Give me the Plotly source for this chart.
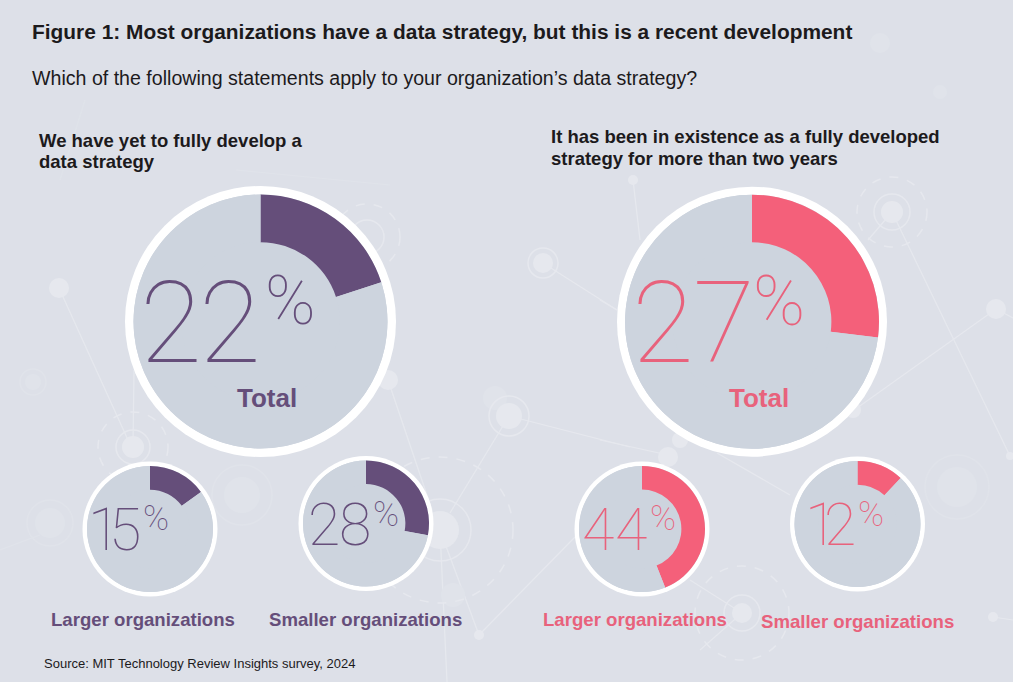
"""Two groups of share-of-organizations pies on a faint network backdrop."""

import plotly.graph_objects as go

W, H = 1013, 682

# data
GROUP_LABELS = ["Total", "Larger organizations", "Smaller organizations"]
YET_TO_DEVELOP = [22, 15, 28]
OVER_TWO_YEARS = [27, 44, 12]
# the 22% wedge is drawn short in the original, it only sweeps about 20%
YET_TO_DEVELOP_WEDGE = [20, 15, 28]
OVER_TWO_YEARS_WEDGE = [27, 44, 12]

TITLE = "Figure 1: Most organizations have a data strategy, but this is a recent development"
QUESTION = "Which of the following statements apply to your organization\u2019s data strategy?"
HEAD_LEFT = ["We have yet to fully develop a", "data strategy"]
HEAD_RIGHT = ["It has been in existence as a fully developed", "strategy for more than two years"]
SOURCE = "Source: MIT Technology Review Insights survey, 2024"

# palette
BG = "#dde0e8"
DISC = "#cdd4de"
PURPLE = "#654e7a"
PINK = "#f4607a"
PINK_TEXT = "#e8627c"
INK = "#1c1a1c"
NODE = "#e6e8ee"
FAINT = "#e0e3ea"
BOLD = "Liberation Sans, Arial, sans-serif"
THIN = "Roboto, sans-serif"

# layout in pixels: centre x, centre y, ring radius, disc radius
PIES_LEFT = [(260.5, 321.5, 135.5, 127), (150, 529, 67.5, 63), (366, 523.5, 67.5, 63)]
PIES_RIGHT = [(752, 321.7, 135, 127), (642, 529, 67.5, 63), (857.5, 524, 67.5, 63)]
# first digit x, second digit x, middle y, size; then the % sign: x, middle y, size
NUM_LEFT = [(139, 198, 323, 113, 264, 301, 68), (87, 108, 529, 59, 141.5, 518, 35), (306.5, 338, 524, 59, 371.5, 514, 35)]
NUM_RIGHT = [(631, 692, 323, 113, 752, 301, 70), (581, 614, 529, 59, 648.5, 518, 35), (803.5, 823, 524, 59, 856.5, 514, 35)]
NAME_LEFT = [(267, 398, 26), (143, 619, 18.6), (365.5, 619, 18.6)]
NAME_RIGHT = [(759, 398, 26), (635, 619, 18.6), (857.5, 621, 18.6)]

# backdrop network, pixels
NET_LINES = [
    (59, 288, 128, 440), (133, 447, 134, 370), (543, 263, 617, 310), (509, 416, 630, 447),
    (509, 416, 450, 513), (388, 380, 432, 510), (440, 530, 479, 635), (440, 530, 447, 682),
    (479, 635, 575, 537), (892, 212, 1010, 456), (892, 212, 868, 240), (996, 309, 850, 413),
    (996, 309, 1013, 318), (993, 617, 1013, 620), (690, 580, 742, 613), (742, 613, 700, 650),
    (717, 453, 790, 495), (633, 180, 640, 240), (600, 300, 617, 310), (600, 440, 668, 455),
]
NET_FAINT_LINES = [(236, 170, 390, 185), (85, 100, 60, 180), (0, 550, 40, 535)]
NET_DOTS = [
    (59, 288, 10), (133, 447, 11), (388, 380, 10), (543, 263, 10), (509, 416, 13), (440, 530, 19),
    (479, 635, 5), (892, 212, 11), (1010, 456, 4), (996, 309, 10), (993, 617, 5), (742, 613, 10),
    (633, 180, 5), (668, 457, 10), (680, 440, 8), (853, 410, 8),
]
NET_RINGS = [(133, 447, 17), (543, 263, 15), (509, 416, 20), (440, 530, 31), (892, 212, 18), (742, 613, 18), (367, 237, 17)]
NET_DASHED = [(133, 447, 35), (440, 530, 73), (892, 212, 35), (742, 613, 47), (367, 237, 33)]
NET_FAINT = [(33, 382, 8), (50, 523, 15), (242, 495, 18), (957, 487, 20), (880, 43, 10), (940, 92, 7), (495, 398, 12), (453, 595, 12)]
NET_FAINT_RINGS = [(33, 382, 13), (50, 523, 23), (242, 495, 30), (957, 487, 32)]


def fx(x):
    return x / W


def fy(y):
    return 1 - y / H


def circle(cx, cy, r, fill=None, line=None, width=1, dash=None):
    return dict(
        type="circle", layer="below", xref="paper", yref="paper",
        x0=fx(cx - r), x1=fx(cx + r), y0=fy(cy + r), y1=fy(cy - r),
        fillcolor=fill or "rgba(0,0,0,0)",
        line=dict(color=line or "rgba(0,0,0,0)", width=width if line else 0, dash=dash or "solid"),
    )


def segment(x0, y0, x1, y1, color):
    return dict(
        type="line", layer="below", xref="paper", yref="paper",
        x0=fx(x0), y0=fy(y0), x1=fx(x1), y1=fy(y1), line=dict(color=color, width=1.2),
    )


def text(x, y, s, size, color, family=BOLD, weight=None, xanchor="left"):
    font = dict(family=family, size=size, color=color)
    if weight:
        font["weight"] = weight
    return dict(
        x=fx(x), y=fy(y), xref="paper", yref="paper", text=s, showarrow=False,
        xanchor=xanchor, yanchor="middle", align="left", font=font, borderpad=0,
    )


fig = go.Figure()
shapes = []
annotations = []

for seg in NET_FAINT_LINES:
    shapes.append(segment(*seg, FAINT))
for seg in NET_LINES:
    shapes.append(segment(*seg, NODE))
for cx, cy, r in NET_FAINT:
    shapes.append(circle(cx, cy, r, fill=FAINT))
for cx, cy, r in NET_FAINT_RINGS:
    shapes.append(circle(cx, cy, r, line=FAINT, width=1.5))
for cx, cy, r in NET_DOTS:
    shapes.append(circle(cx, cy, r, fill=NODE))
for cx, cy, r in NET_RINGS:
    shapes.append(circle(cx, cy, r, line=NODE, width=1.5))
for cx, cy, r in NET_DASHED:
    shapes.append(circle(cx, cy, r, line=NODE, width=1.5, dash="dash"))

groups = [
    (YET_TO_DEVELOP, YET_TO_DEVELOP_WEDGE, PIES_LEFT, NUM_LEFT, NAME_LEFT, PURPLE, PURPLE),
    (OVER_TWO_YEARS, OVER_TWO_YEARS_WEDGE, PIES_RIGHT, NUM_RIGHT, NAME_RIGHT, PINK, PINK_TEXT),
]
for values, wedges, pies, nums, names, color, text_color in groups:
    for i, (cx, cy, ring, r) in enumerate(pies):
        shapes.append(circle(cx, cy, ring, fill="#ffffff"))
        shapes.append(circle(cx, cy, r, fill=DISC))
        fig.add_trace(go.Pie(
            values=[wedges[i], 100 - wedges[i]], labels=["share", "rest"],
            domain=dict(x=[fx(cx - r), fx(cx + r)], y=[fy(cy + r), fy(cy - r)]),
            hole=0.625, sort=False, direction="clockwise", rotation=0,
            marker=dict(colors=[color, DISC], line=dict(width=0)),
            textinfo="none", showlegend=False, hoverinfo="skip",
        ))
        # digits placed one by one, Roboto's tabular figures run wider than the original's
        d0, d1, ny, nsize, px, py, psize = nums[i]
        digits = str(values[i])
        annotations.append(text(d0, ny, digits[0], nsize, text_color, THIN, 100))
        annotations.append(text(d1, ny, digits[1], nsize, text_color, THIN, 100))
        annotations.append(text(px, py, "%", psize, text_color, THIN, 100))
        lx, ly, lsize = names[i]
        annotations.append(text(lx, ly, f"<b>{GROUP_LABELS[i]}</b>", lsize, text_color, xanchor="center"))

annotations += [
    text(31, 32, f"<b>{TITLE}</b>", 20.9, INK),
    text(31, 78, QUESTION, 19.6, INK),
    text(38, 140, f"<b>{HEAD_LEFT[0]}</b>", 18.5, INK),
    text(38, 161.5, f"<b>{HEAD_LEFT[1]}</b>", 18.5, INK),
    text(550, 136, f"<b>{HEAD_RIGHT[0]}</b>", 18.5, INK),
    text(550, 158, f"<b>{HEAD_RIGHT[1]}</b>", 18.5, INK),
    text(43, 663, SOURCE, 13, INK),
]

fig.update_layout(
    width=W, height=H, margin=dict(l=0, r=0, t=0, b=0),
    paper_bgcolor=BG, plot_bgcolor=BG,
    shapes=shapes, annotations=annotations,
)
fig.write_html("out.html", config=dict(displayModeBar=False), post_script="document.body.style.margin='0';")
